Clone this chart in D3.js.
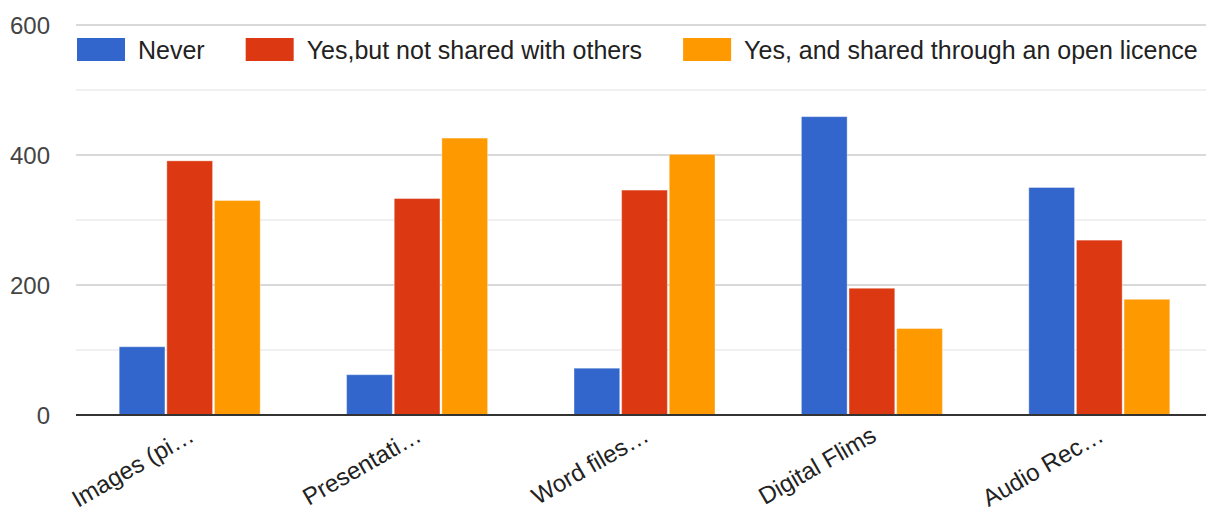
<!DOCTYPE html>
<html>
<head>
<meta charset="utf-8">
<script src="https://cdn.jsdelivr.net/npm/d3@7/dist/d3.min.js"></script>
<style>
  html, body { margin: 0; padding: 0; background: #fff; }
  svg { display: block; font-family: "Liberation Sans", Arial, Helvetica, sans-serif; }
</style>
</head>
<body>
<svg id="chart" width="1206" height="513"></svg>
<script>
// Categories, series and values
const categories = ["Images (pi…", "Presentati…", "Word files…", "Digital Flims", "Audio Rec…"];
const seriesNames = ["Never", "Yes,but not shared with others", "Yes, and shared through an open licence"];
const seriesColors = ["#3366cc", "#dc3912", "#ff9900"];
const never = [105, 62, 72, 459, 350];
const notShared = [391, 333, 346, 195, 269];
const openLicence = [330, 426, 401, 133, 178];
const yTicks = [0, 200, 400, 600];
const yMinorTicks = [100, 300, 500];

const seriesValues = [never, notShared, openLicence];

const svg = d3.select("#chart");
const W = 1206, H = 513;
const plot = { left: 76, right: 1213, top: 25, bottom: 415 };

const y = d3.scaleLinear().domain([0, 600]).range([plot.bottom, plot.top]);
const x0 = d3.scaleBand().domain(categories).range([plot.left, plot.right])
  .paddingInner(0.38).paddingOuter(0.19);
const x1 = d3.scaleBand().domain(d3.range(seriesNames.length)).range([0, x0.bandwidth()])
  .paddingInner(0.04);

// Gridlines
const grid = svg.append("g");
grid.selectAll("line.minor").data(yMinorTicks).join("line")
  .attr("class", "minor")
  .attr("x1", plot.left).attr("x2", W)
  .attr("y1", d => y(d)).attr("y2", d => y(d))
  .attr("stroke", "#ebebeb").attr("stroke-width", 1.5);
grid.selectAll("line.major").data(yTicks.filter(d => d !== 0)).join("line")
  .attr("class", "major")
  .attr("x1", plot.left).attr("x2", W)
  .attr("y1", d => y(d)).attr("y2", d => y(d))
  .attr("stroke", "#cccccc").attr("stroke-width", 1.5);

// Y axis labels
svg.append("g").selectAll("text").data(yTicks).join("text")
  .attr("x", 50).attr("y", d => y(d))
  .attr("dy", "0.36em")
  .attr("text-anchor", "end")
  .attr("font-size", 24)
  .attr("fill", "#444")
  .text(d => d);

// Bars
const groups = svg.append("g").selectAll("g").data(categories).join("g")
  .attr("transform", d => `translate(${x0(d)},0)`);
groups.selectAll("rect")
  .data((d, i) => seriesValues.map((vals, s) => ({ s, v: vals[i] })))
  .join("rect")
  .attr("x", d => x1(d.s))
  .attr("width", x1.bandwidth())
  .attr("y", d => y(d.v))
  .attr("height", d => y(0) - y(d.v))
  .attr("fill", d => seriesColors[d.s])
  .attr("stroke", "#ffffff").attr("stroke-opacity", 0.35).attr("stroke-width", 1);

// Baseline
svg.append("line")
  .attr("x1", plot.left).attr("x2", W)
  .attr("y1", y(0)).attr("y2", y(0))
  .attr("stroke", "#333").attr("stroke-width", 2);

// Category labels, rotated
svg.append("g").selectAll("text").data(categories).join("text")
  .attr("transform", d => `translate(${x0(d) + x0.bandwidth() / 2 + 6},${y(0) + 25}) rotate(-30)`)
  .attr("text-anchor", "end")
  .attr("font-size", 24)
  .attr("fill", "#222")
  .text(d => d);

// Legend
const legend = svg.append("g");
let lx = 77;
seriesNames.forEach((name, i) => {
  legend.append("rect")
    .attr("x", lx).attr("y", 38).attr("width", 48).attr("height", 23)
    .attr("fill", seriesColors[i]);
  const t = legend.append("text")
    .attr("x", lx + 61).attr("y", 49.5).attr("dy", "0.36em")
    .attr("font-size", 25).attr("fill", "#222")
    .text(name);
  lx += 61 + t.node().getComputedTextLength() + 41;
});
</script>
</body>
</html>
